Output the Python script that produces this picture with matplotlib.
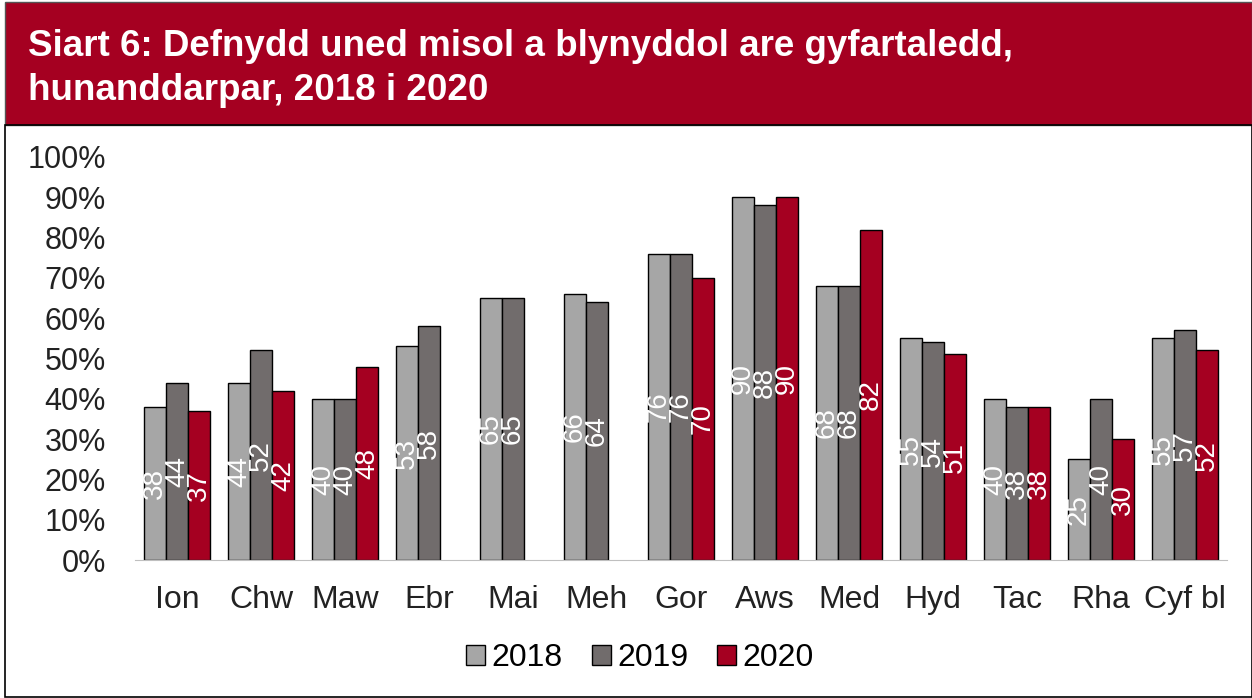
import matplotlib
matplotlib.use("Agg")
import matplotlib.pyplot as plt
import numpy as np
from matplotlib.patches import Rectangle

plt.rcParams['font.family'] = ['Liberation Sans', 'DejaVu Sans']

categories = ["Ion", "Chw", "Maw", "Ebr", "Mai", "Meh", "Gor", "Aws", "Med", "Hyd", "Tac", "Rha", "Cyf bl"]
v2018 = [38, 44, 40, 53, 65, 66, 76, 90, 68, 55, 40, 25, 55]
v2019 = [44, 52, 40, 58, 65, 64, 76, 88, 68, 54, 38, 40, 57]
v2020 = [37, 42, 48, None, None, None, 70, 90, 82, 51, 38, 30, 52]
series_names = ["2018", "2019", "2020"]
colors = ["#A6A6A6", "#716C6C", "#A50021"]
yticks = [0, 10, 20, 30, 40, 50, 60, 70, 80, 90, 100]
title_lines = ["Siart 6: Defnydd uned misol a blynyddol are gyfartaledd,", "hunanddarpar, 2018 i 2020"]

fig = plt.figure(figsize=(12.52, 6.98), dpi=100)
W, H = 1252, 698

# title band
fig.patches.append(Rectangle((5 / W, 1 - 125 / H), 1 - 5 / W, 123 / H, transform=fig.transFigure,
                             facecolor="#A50021", edgecolor="#555555", lw=1, zorder=0))
# frame line on left / bottom
fig.patches.append(Rectangle((5 / W, 0.002), 1 - 5 / W, 1 - 125 / H - 0.002, transform=fig.transFigure,
                             facecolor="none", edgecolor="black", lw=1.2, zorder=0))
fig.text(28 / W, 1 - 47 / H, title_lines[0], color="white", fontsize=26.5, fontweight="bold", va="center", ha="left")
fig.text(28 / W, 1 - 91 / H, title_lines[1], color="white", fontsize=26.5, fontweight="bold", va="center", ha="left")

ax = fig.add_axes([135 / W, (H - 560) / H, (1227 - 135) / W, (560 - 157) / H])
x = np.arange(len(categories))
bw = 0.262
data = [v2018, v2019, v2020]
for i, (vals, c, name) in enumerate(zip(data, colors, series_names)):
    xs = [xx + (i - 1) * bw for xx, v in zip(x, vals) if v is not None]
    ys = [v for v in vals if v is not None]
    ax.bar(xs, ys, width=bw, color=c, edgecolor="black", linewidth=1.0, label=name)
    for xx, v in zip(xs, ys):
        ax.text(xx, v / 2, str(v), rotation=90, ha="center", va="center", color="white", fontsize=20)

ax.set_xlim(-0.5, len(categories) - 0.5)
ax.set_ylim(0, 100)
ax.set_yticks(yticks)
ax.set_yticklabels([f"{t}%" for t in yticks], fontsize=22)
ax.set_xticks(x)
ax.set_xticklabels(categories, fontsize=23)
ax.tick_params(axis="both", length=0, colors="#222222")
ax.tick_params(axis="x", pad=18)
ax.tick_params(axis="y", pad=21)
for s in ["top", "right", "left"]:
    ax.spines[s].set_visible(False)
ax.spines["bottom"].set_color("#BFBFBF")

fig.legend(loc="center", bbox_to_anchor=(640 / W, 1 - 658 / H), ncol=3, frameon=False,
           fontsize=23, handlelength=0.6, handleheight=0.6, handletextpad=0.2, columnspacing=0.9)

fig.savefig("out.png", dpi=100)
